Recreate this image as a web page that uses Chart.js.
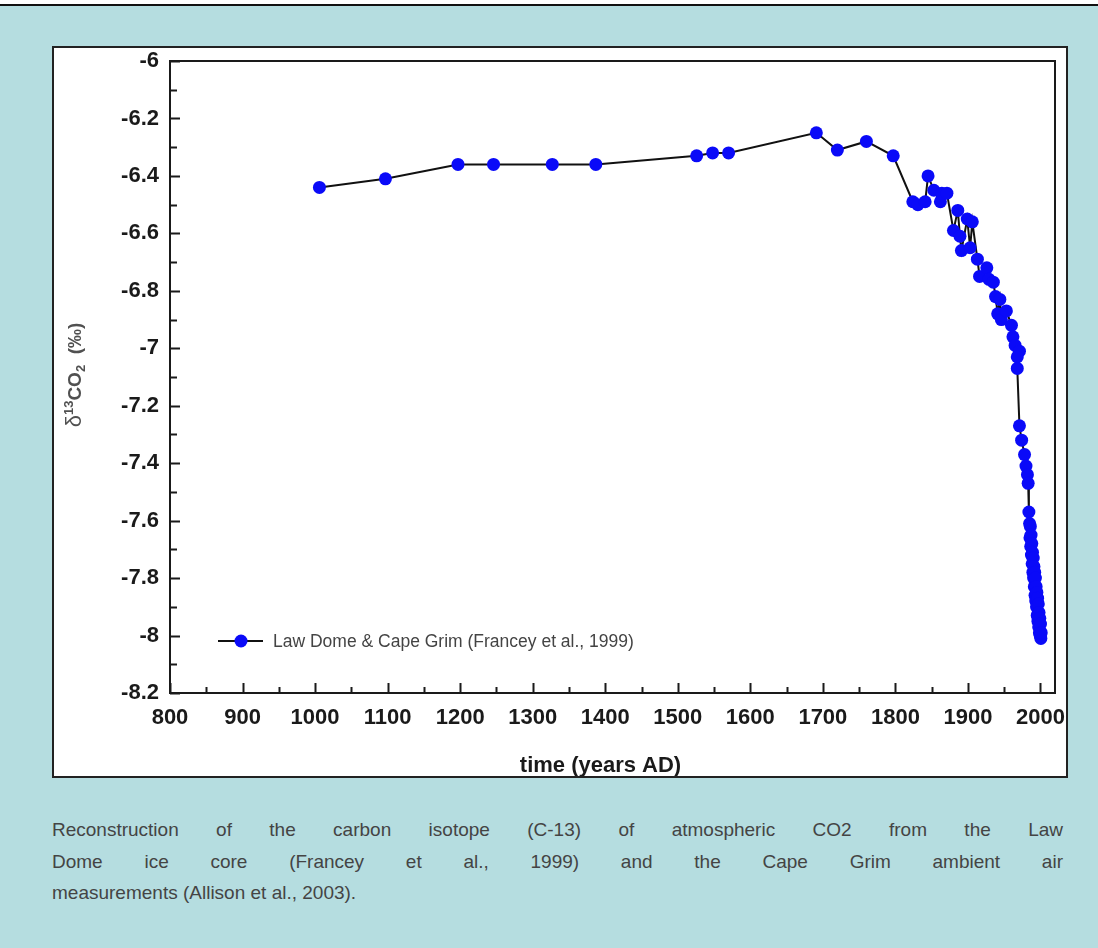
<!DOCTYPE html>
<html>
<head>
<meta charset="utf-8">
<title>Law Dome d13C</title>
<script src="https://cdn.jsdelivr.net/npm/chart.js@4.4.1/dist/chart.umd.min.js"></script>
<style>
  html, body { margin: 0; padding: 0; }
  body {
    width: 1098px; height: 948px; position: relative; overflow: hidden;
    background: #b5dde0;
    font-family: "Liberation Sans", Arial, sans-serif;
  }
  #topline { position: absolute; left: 0; top: 0; width: 1098px; height: 4px; background: #fff; border-bottom: 2px solid #111; }
  #panel { position: absolute; left: 52px; top: 46px; width: 1012px; height: 728px; background: #fff; border: 2px solid #222; }
  #wrap { position: absolute; left: 0; top: 0; width: 1012px; height: 728px; }
  #caption { position: absolute; left: 52px; top: 814px; width: 1011px; color: #444; font-size: 19px; line-height: 31.5px; }
  #caption .j { text-align: justify; text-align-last: justify; }
</style>
</head>
<body>
<div id="topline"></div>
<div id="panel">
  <div id="wrap"><canvas id="isoChart"></canvas></div>
</div>
<div id="caption">
  <div class="j">Reconstruction of the carbon isotope (C-13) of atmospheric CO2 from the Law</div>
  <div class="j">Dome ice core (Francey et al., 1999) and the Cape Grim ambient air</div>
  <div>measurements (Allison et al., 2003).</div>
</div>
<script>
// años y valores
const years = [
  1006, 1097, 1197, 1246, 1327, 1387, 1526, 1548, 1570, 1691, 1720, 1760, 1797,
  1824, 1831, 1841, 1845, 1853, 1862, 1864, 1871, 1880, 1886, 1889, 1891, 1899,
  1903, 1906, 1913, 1916, 1926, 1929, 1935, 1938, 1941, 1944, 1946, 1953, 1960,
  1962, 1965, 1971, 1968, 1968, 1971, 1974, 1978, 1980, 1982, 1983, 1984,
  1985, 1985.5, 1986, 1986.5, 1987, 1987.5, 1988, 1988.5, 1989, 1989.5, 1990,
  1990.5, 1991, 1991.5, 1992, 1992.5, 1993, 1993.5, 1994, 1994.5, 1995, 1995.5,
  1996, 1996.5, 1997, 1997.5, 1998, 1998.5, 1999, 1999.5, 2000, 2000.5, 2001
];
const d13c = [
  -6.44, -6.41, -6.36, -6.36, -6.36, -6.36, -6.33, -6.32, -6.32, -6.25, -6.31, -6.28, -6.33,
  -6.49, -6.50, -6.49, -6.40, -6.45, -6.49, -6.46, -6.46, -6.59, -6.52, -6.61, -6.66, -6.55,
  -6.65, -6.56, -6.69, -6.75, -6.72, -6.76, -6.77, -6.82, -6.88, -6.83, -6.90, -6.87, -6.92,
  -6.96, -6.99, -7.01, -7.03, -7.07, -7.27, -7.32, -7.37, -7.41, -7.44, -7.47, -7.57,
  -7.61, -7.66, -7.62, -7.69, -7.65, -7.72, -7.68, -7.75, -7.71, -7.78, -7.73,
  -7.80, -7.76, -7.83, -7.78, -7.86, -7.80, -7.88, -7.83, -7.90, -7.85, -7.93,
  -7.87, -7.95, -7.89, -7.97, -7.92, -7.99, -7.94, -8.00, -7.96, -8.01, -7.99
];
const xTicks = [800, 900, 1000, 1100, 1200, 1300, 1400, 1500, 1600, 1700, 1800, 1900, 2000];
const yTicks = [-6, -6.2, -6.4, -6.6, -6.8, -7, -7.2, -7.4, -7.6, -7.8, -8, -8.2];
const seriesLabel = 'Law Dome & Cape Grim (Francey et al., 1999)';
const xTitle = 'time (years AD)';

const puntos = years.map((yr, i) => ({ x: yr, y: d13c[i] }));
const FAM = '"Liberation Sans", Arial, sans-serif';

// marco y marcas hacia dentro (mayores y menores)
const marcoPlugin = {
  id: 'marco',
  beforeDatasetsDraw(chart) {
    const { ctx, chartArea: { left, right, top, bottom }, scales: { x, y } } = chart;
    ctx.save();
    ctx.strokeStyle = '#1a1a1a';
    ctx.lineWidth = 2;
    ctx.beginPath();
    const xs = x.ticks.map(t => t.value);
    xs.forEach((v, i) => {
      const px = Math.round(x.getPixelForValue(v)) + 0.5;
      ctx.moveTo(px, bottom); ctx.lineTo(px, bottom - 10);
      if (i < xs.length - 1) {
        const pm = Math.round(x.getPixelForValue((v + xs[i + 1]) / 2)) + 0.5;
        ctx.moveTo(pm, bottom); ctx.lineTo(pm, bottom - 6);
      }
    });
    const ys = y.ticks.map(t => t.value);
    ys.forEach((v, i) => {
      const py = Math.round(y.getPixelForValue(v)) + 0.5;
      ctx.moveTo(left, py); ctx.lineTo(left + 10, py);
      if (i < ys.length - 1) {
        const pm = Math.round(y.getPixelForValue((v + ys[i + 1]) / 2)) + 0.5;
        ctx.moveTo(left, pm); ctx.lineTo(left + 7, pm);
      }
    });
    ctx.stroke();
    ctx.strokeRect(left, top, right - left, bottom - top);
    ctx.restore();
  }
};

// títulos de los ejes (con superíndice y subíndice reales)
const titulosPlugin = {
  id: 'titulos',
  afterDraw(chart) {
    const { ctx, chartArea } = chart;
    ctx.save();
    // eje x
    ctx.fillStyle = '#1a1a1a';
    ctx.font = 'bold 22px ' + FAM;
    ctx.textAlign = 'center';
    ctx.textBaseline = 'alphabetic';
    ctx.fillText(xTitle, (chartArea.left + chartArea.right) / 2 - 12, chart.height - 4);
    // eje y
    const partes = [
      { t: 'δ', f: '22px ' + FAM, dy: 0 },
      { t: '13', f: 'bold 13px ' + FAM, dy: -8 },
      { t: 'CO', f: 'bold 19px ' + FAM, dy: 0 },
      { t: '2', f: 'bold 13px ' + FAM, dy: 4 },
      { t: '  ', f: 'bold 19px ' + FAM, dy: 0 },
      { t: '(‰)', f: 'bold 19px ' + FAM, dy: 0 }
    ];
    let total = 0;
    partes.forEach(p => { ctx.font = p.f; p.w = ctx.measureText(p.t).width; total += p.w; });
    ctx.translate(27, (chartArea.top + chartArea.bottom) / 2 - 2);
    ctx.rotate(-Math.PI / 2);
    ctx.fillStyle = '#505050';
    ctx.textAlign = 'left';
    ctx.textBaseline = 'alphabetic';
    let cx = -total / 2;
    partes.forEach(p => { ctx.font = p.f; ctx.fillText(p.t, cx, p.dy); cx += p.w; });
    ctx.restore();
  }
};

// leyenda dentro del área del gráfico
const leyendaPlugin = {
  id: 'leyenda',
  afterDatasetsDraw(chart) {
    const { ctx, chartArea } = chart;
    const ds = chart.data.datasets[0];
    const x0 = chartArea.left + 48;
    const yc = chartArea.bottom - 52;
    ctx.save();
    ctx.strokeStyle = ds.borderColor;
    ctx.lineWidth = ds.borderWidth;
    ctx.beginPath();
    ctx.moveTo(x0, yc); ctx.lineTo(x0 + 45, yc);
    ctx.stroke();
    ctx.fillStyle = ds.pointBackgroundColor;
    ctx.beginPath();
    ctx.arc(x0 + 23, yc, ds.pointRadius, 0, Math.PI * 2);
    ctx.fill();
    ctx.fillStyle = '#444';
    ctx.font = '17.5px ' + FAM;
    ctx.textBaseline = 'middle';
    ctx.fillText(seriesLabel, x0 + 55, yc + 1);
    ctx.restore();
  }
};

const fuenteTicks = { family: FAM, size: 22, weight: 'bold' };

const ctx = document.getElementById('isoChart').getContext('2d');
new Chart(ctx, {
  type: 'line',
  data: {
    datasets: [{
      label: seriesLabel,
      data: puntos,
      borderColor: '#111',
      borderWidth: 2,
      pointRadius: 6.5,
      pointHoverRadius: 6.5,
      pointBackgroundColor: '#0a0af8',
      pointBorderColor: '#0a0af8',
      pointBorderWidth: 0,
      tension: 0,
      fill: false
    }]
  },
  options: {
    responsive: true,
    maintainAspectRatio: false,
    animation: false,
    layout: { padding: { left: 0, top: 13, right: 11, bottom: 0 } },
    plugins: {
      legend: { display: false },
      tooltip: { enabled: false }
    },
    scales: {
      x: {
        type: 'linear',
        min: 800,
        max: 2020,
        afterBuildTicks: s => { s.ticks = xTicks.map(v => ({ value: v })); },
        afterFit: s => { s.height = 83; s.paddingLeft = 0; s.paddingRight = 0; },
        grid: { display: false, drawTicks: false },
        border: { display: false },
        ticks: {
          color: '#1a1a1a', font: fuenteTicks, padding: 12, maxRotation: 0, autoSkip: false,
          callback: v => String(v)
        },
        title: { display: false }
      },
      y: {
        min: -8.2,
        max: -6,
        afterBuildTicks: s => { s.ticks = yTicks.map(v => ({ value: v })); },
        afterFit: s => { s.width = 116; s.paddingTop = 0; s.paddingBottom = 0; },
        grid: { display: false, drawTicks: false },
        border: { display: false },
        ticks: {
          color: '#1a1a1a', font: fuenteTicks, padding: 11, autoSkip: false,
          callback: v => String(Number(v.toFixed(1)))
        },
        title: { display: false }
      }
    }
  },
  plugins: [marcoPlugin, titulosPlugin, leyendaPlugin]
});
</script>
</body>
</html>
